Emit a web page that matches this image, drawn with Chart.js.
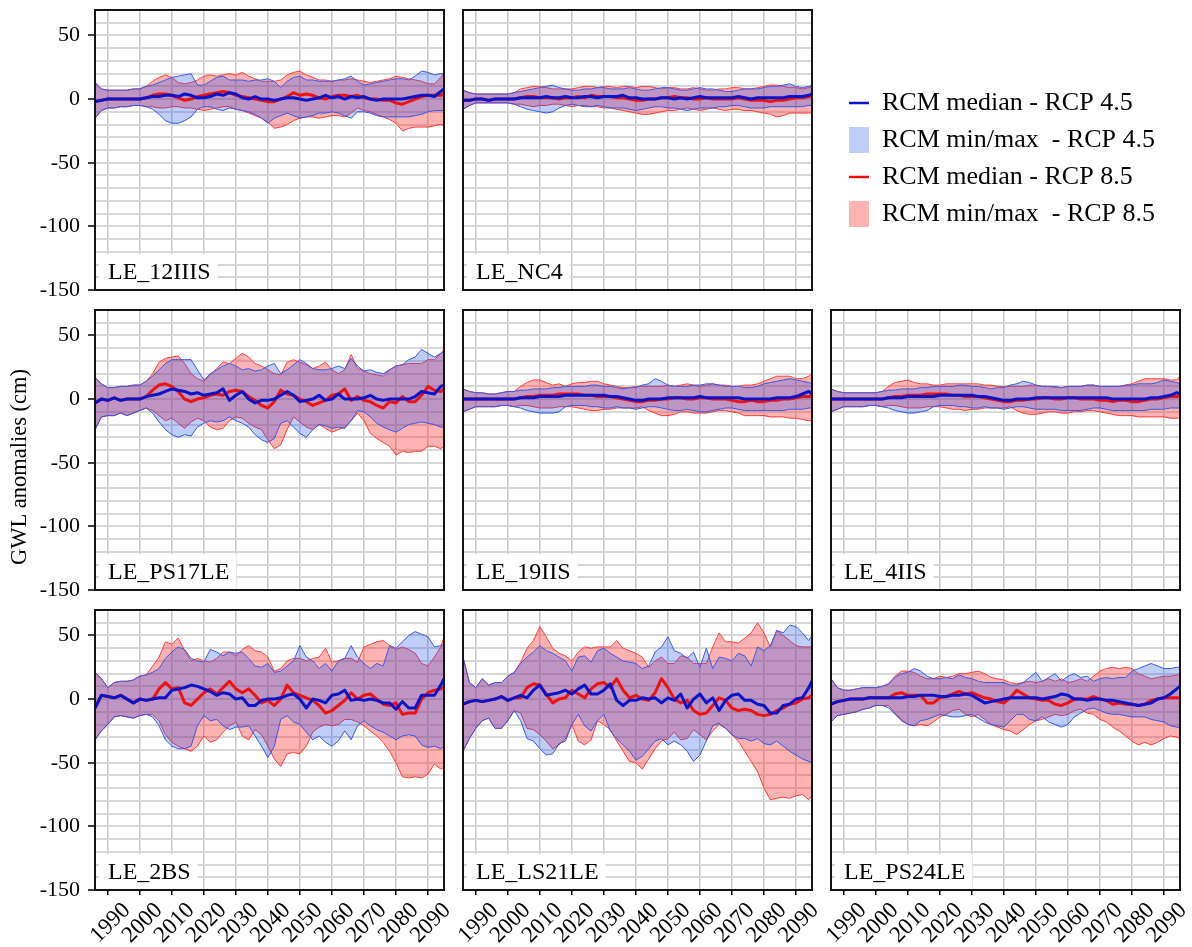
<!DOCTYPE html>
<html>
<head>
<meta charset="utf-8">
<title>GWL anomalies</title>
<script src="https://cdn.jsdelivr.net/npm/chart.js@4.4.1/dist/chart.umd.min.js"></script>
<style>
  html, body { margin: 0; padding: 0; background: #ffffff; }
  body { width: 1192px; height: 947px; position: relative; overflow: hidden; }
  canvas.panel { position: absolute; }
</style>
</head>
<body>
<script>
// ---------------------------------------------------------------------------
// Time axis (years) and axis tick values
// ---------------------------------------------------------------------------
const years = [1986, 1988, 1990, 1992, 1994, 1996, 1998, 2000, 2002, 2004,
  2006, 2008, 2010, 2012, 2014, 2016, 2018, 2020, 2022, 2024,
  2026, 2028, 2030, 2032, 2034, 2036, 2038, 2040, 2042, 2044,
  2046, 2048, 2050, 2052, 2054, 2056, 2058, 2060, 2062, 2064,
  2066, 2068, 2070, 2072, 2074, 2076, 2078, 2080, 2082, 2084,
  2086, 2088, 2090, 2092, 2094, 2095];

const xTickValues = [1990, 2000, 2010, 2020, 2030, 2040, 2050, 2060, 2070, 2080, 2090];
const yTickLabels = [50, 0, -50, -100, -150];
const yGridValues = [70, 60, 50, 40, 30, 20, 10, 0, -10, -20, -30, -40, -50, -60,
  -70, -80, -90, -100, -110, -120, -130, -140, -150];

const stationNames = ['LE_12IIIS', 'LE_NC4', 'LE_PS17LE', 'LE_19IIS', 'LE_4IIS',
  'LE_2BS', 'LE_LS21LE', 'LE_PS24LE'];

// ---------------------------------------------------------------------------
// GWL anomalies (cm): RCM min / max / median for RCP 4.5 and RCP 8.5
// ---------------------------------------------------------------------------
// LE_12IIIS
const s12IIIS_max45 = [13,8,7,7,7,7,8,8,10,11, 13,15,17,18,19,20,11,11,14,17, 18,15,15,15,14,15,15,16,14,9, 14,17,18,15,15,14,14,14,15,16, 18,14,11,12,13,14,15,16,16,15, 18,22,21,19,20,20];
const s12IIIS_min45 = [-15,-9,-7,-7,-6,-6,-5,-5,-6,-8, -12,-17,-19,-19,-17,-14,-8,-6,-6,-8, -9,-7,-8,-9,-10,-12,-15,-19,-15,-13, -11,-13,-15,-14,-13,-11,-11,-10,-11,-13, -15,-10,-10,-11,-13,-14,-14,-14,-14,-14, -13,-12,-10,-9,-9,-9];
const s12IIIS_med45 = [-2,-1,0,0,0,0,0,0,1,2, 2,3,3,2,4,3,1,1,2,4, 3,5,4,1,0,2,0,0,-1,0, 1,1,0,-1,0,1,3,1,2,0, 2,1,2,0,-1,0,0,0,0,1, 2,3,3,2,6,8];
const s12IIIS_max85 = [13,8,7,7,7,7,8,8,10,14, 17,19,17,13,12,13,15,18,19,18, 19,20,19,21,18,16,14,14,14,15, 19,21,22,19,17,15,15,14,15,15, 16,15,14,13,14,15,16,18,17,16, 15,14,12,12,17,20];
const s12IIIS_min85 = [-15,-9,-7,-7,-6,-6,-5,-5,-6,-6, -7,-7,-6,-6,-7,-7,-8,-9,-8,-7, -6,-6,-8,-9,-11,-13,-15,-18,-23,-22, -20,-17,-15,-14,-14,-15,-14,-13,-13,-14, -11,-7,-9,-10,-12,-14,-16,-19,-25,-23, -22,-22,-22,-21,-20,-21];
const s12IIIS_med85 = [-2,-1,0,0,0,0,0,0,1,3, 4,4,3,1,-1,0,2,3,4,5, 6,5,3,2,1,0,-1,-2,-2,0, 2,5,3,4,3,1,0,2,3,3, 2,3,1,0,0,-1,-1,-3,-4,-2, 0,2,3,3,3,4];

// LE_NC4
const sNC4_max45 = [7,5,4,4,4,4,4,4,5,6, 7,8,9,10,11,9,8,7,7,8, 8,9,9,8,8,8,9,8,7,7, 8,9,9,8,7,7,8,9,8,8, 7,6,6,7,8,8,8,9,10,10, 11,12,10,9,10,11];
const sNC4_min45 = [-8,-5,-3,-3,-3,-3,-3,-3,-4,-6, -8,-9,-10,-11,-10,-7,-5,-4,-5,-6, -6,-5,-6,-7,-7,-7,-8,-9,-8,-7, -6,-6,-7,-7,-8,-9,-8,-7,-7,-7, -6,-6,-5,-5,-6,-7,-7,-7,-6,-6, -6,-6,-6,-6,-5,-5];
const sNC4_med45 = [-1,-1,0,0,-1,0,0,0,0,1, 1,1,1,2,1,1,2,1,1,2, 2,1,2,2,2,3,1,1,0,0, 0,1,1,0,1,0,1,2,1,1, 1,1,1,2,1,0,1,1,1,1, 1,2,2,2,3,4];
const sNC4_max85 = [7,5,4,4,4,4,4,4,5,8, 9,10,10,9,8,8,8,8,9,10, 10,9,10,10,9,10,10,9,10,10, 9,8,9,9,8,8,9,8,7,7, 8,8,9,9,8,8,9,10,11,11, 10,9,9,8,9,9];
const sNC4_min85 = [-8,-5,-3,-3,-3,-3,-3,-3,-4,-4, -5,-6,-5,-5,-4,-4,-5,-6,-5,-5, -6,-6,-7,-7,-8,-9,-10,-11,-12,-12, -11,-10,-9,-9,-8,-7,-8,-9,-8,-7, -8,-9,-8,-8,-9,-9,-10,-11,-12,-14, -13,-11,-11,-11,-11,-11];
const sNC4_med85 = [-1,-1,0,0,-1,0,0,0,0,1, 2,2,1,1,1,0,1,1,2,1, 3,2,2,2,1,1,0,-1,-1,0, 0,1,1,2,1,1,0,0,1,0, 0,0,0,1,0,-1,-1,-1,-2,-1, -1,0,1,1,2,2];

// LE_PS17LE
const sPS17LE_max45 = [17,12,9,9,10,10,11,11,14,18, 23,28,31,31,31,31,23,15,20,23, 26,28,26,23,24,22,23,26,28,20, 23,27,31,28,24,23,23,24,26,24, 32,26,22,23,21,20,23,26,27,31, 33,39,36,33,36,37];
const sPS17LE_min45 = [-24,-14,-13,-13,-11,-13,-11,-9,-7,-11, -18,-24,-28,-30,-28,-29,-22,-19,-17,-18, -17,-14,-17,-19,-22,-28,-32,-34,-31,-19, -17,-22,-27,-30,-24,-20,-21,-23,-22,-23, -17,-9,-10,-14,-19,-22,-24,-26,-23,-20, -19,-18,-19,-20,-22,-22];
const sPS17LE_med45 = [-3,0,-1,1,-1,0,0,0,2,3, 4,6,8,7,6,4,5,3,4,5, 8,-1,3,6,0,-3,-1,-1,0,3, 6,3,-2,-1,0,3,-1,0,4,0, 0,0,1,3,0,-1,0,0,0,0, 2,6,5,4,10,11];
const sPS17LE_max85 = [17,12,9,9,10,10,11,11,14,20, 29,32,33,34,28,20,16,14,19,24, 29,28,32,36,33,28,26,23,20,19, 29,31,29,27,24,26,29,23,20,23, 35,24,22,20,19,18,23,26,27,28, 28,28,31,31,36,39];
const sPS17LE_min85 = [-24,-14,-13,-13,-11,-13,-11,-9,-7,-9, -13,-17,-15,-19,-23,-18,-15,-17,-22,-24, -23,-17,-14,-15,-19,-22,-24,-32,-39,-36, -24,-14,-18,-22,-24,-20,-23,-26,-24,-22, -17,-11,-17,-27,-31,-34,-37,-44,-41,-42, -41,-41,-37,-37,-39,-37];
const sPS17LE_med85 = [-3,0,-1,1,-1,0,0,0,2,7, 11,12,10,6,0,-2,0,1,3,4, 3,6,7,6,2,-1,-5,-7,-2,7, 4,3,0,-2,-5,-3,-1,3,4,8, -1,2,-1,-2,-5,-7,-2,-3,2,-2, -2,3,10,7,6,8];

// LE_19IIS
const s19IIS_max45 = [8,6,5,5,4,4,5,6,6,7, 7,8,8,8,9,9,10,10,10,10, 11,11,10,10,9,8,9,9,11,12, 16,14,11,10,10,10,11,11,12,12, 11,10,10,10,9,9,10,12,13,14, 15,16,15,14,13,12];
const s19IIS_min45 = [-10,-8,-6,-6,-6,-6,-5,-5,-6,-7, -9,-10,-11,-11,-11,-10,-6,-5,-5,-5, -6,-6,-7,-7,-6,-7,-7,-8,-7,-6, -6,-7,-8,-9,-9,-8,-9,-10,-10,-9, -8,-7,-7,-8,-9,-9,-9,-9,-9,-9, -9,-8,-8,-8,-7,-7];
const s19IIS_med45 = [0,0,0,0,0,0,0,0,0,1, 1,1,2,2,2,2,3,3,3,3, 3,3,3,2,2,1,0,-1,-1,0, 0,0,1,1,1,1,1,2,1,1, 1,1,1,1,0,0,0,0,0,1, 1,1,2,4,6,4];
const s19IIS_max85 = [8,6,5,5,4,4,5,6,6,10, 13,15,15,13,11,12,10,12,13,13, 14,14,12,11,10,9,9,10,10,10, 10,10,11,10,11,12,11,10,11,12, 11,11,10,10,11,11,12,14,16,18, 18,18,16,16,18,20];
const s19IIS_min85 = [-10,-8,-6,-6,-6,-6,-5,-5,-6,-5, -5,-6,-7,-7,-7,-6,-6,-6,-7,-8, -9,-9,-8,-8,-7,-7,-7,-7,-6,-9, -11,-13,-13,-12,-10,-10,-11,-11,-11,-10, -9,-9,-10,-11,-13,-13,-13,-13,-14,-14, -14,-15,-15,-16,-17,-17];
const s19IIS_med85 = [0,0,0,0,0,0,0,0,0,1, 2,2,3,3,3,4,4,4,4,3, 3,2,2,2,1,0,-1,-2,-2,-1, -1,0,0,1,1,0,0,1,1,0, 0,0,-1,-2,-2,-1,-2,-2,-1,-1, 0,0,1,2,2,2];

// LE_4IIS
const s4IIS_max45 = [8,6,5,5,5,5,5,5,6,7, 7,8,8,8,9,9,10,10,10,10, 11,11,10,10,9,8,9,9,11,12, 14,13,11,10,10,10,9,10,10,10, 11,11,10,10,10,10,11,11,12,12, 12,13,15,14,13,12];
const s4IIS_min45 = [-10,-8,-6,-6,-6,-6,-5,-5,-6,-7, -9,-10,-11,-11,-10,-9,-6,-5,-5,-5, -6,-6,-7,-7,-6,-7,-7,-8,-7,-6, -6,-7,-8,-8,-8,-8,-9,-9,-9,-9, -8,-7,-7,-8,-9,-9,-9,-9,-9,-9, -8,-8,-8,-7,-7,-7];
const s4IIS_med45 = [0,0,0,0,0,0,0,0,0,1, 1,1,2,2,2,2,2,3,3,3, 3,3,3,2,2,1,0,-1,-1,0, 0,0,1,1,1,1,1,1,1,1, 1,1,1,1,0,0,0,0,0,0, 1,1,2,3,5,4];
const s4IIS_max85 = [8,6,5,5,5,5,5,5,6,10, 13,14,15,13,12,12,11,11,12,12, 12,12,12,12,11,11,10,10,10,10, 10,11,11,10,10,9,9,10,10,10, 11,11,10,10,10,10,11,12,14,16, 16,16,16,15,15,18];
const s4IIS_min85 = [-10,-8,-6,-6,-6,-6,-5,-5,-6,-5, -5,-6,-7,-7,-7,-6,-6,-6,-7,-8, -8,-9,-8,-8,-7,-7,-7,-7,-6,-9, -11,-12,-12,-11,-10,-10,-11,-11,-10,-10, -9,-9,-10,-11,-12,-13,-13,-13,-14,-14, -14,-14,-14,-15,-15,-15];
const s4IIS_med85 = [0,0,0,0,0,0,0,0,0,1, 2,2,3,3,3,4,4,4,4,3, 3,2,2,2,1,0,-1,-2,-2,-1, -1,0,0,1,1,0,0,1,1,0, 0,0,-1,-1,-2,-1,-1,-2,-2,-1, 0,0,1,2,2,2];

// LE_2BS
const s2BS_max45 = [21,16,9,13,14,14,15,18,19,21, 24,32,37,41,39,32,30,29,39,37, 34,37,36,37,32,26,25,28,21,22, 26,30,42,33,30,24,28,22,30,32, 42,33,28,24,28,26,42,40,45,50, 53,51,49,41,42,43];
const s2BS_min45 = [-32,-25,-20,-14,-13,-14,-15,-13,-12,-14, -21,-32,-37,-39,-39,-37,-21,-13,-17,-16, -21,-24,-22,-22,-21,-29,-37,-46,-37,-16, -13,-18,-20,-26,-32,-29,-34,-37,-33,-25, -32,-21,-17,-21,-24,-26,-29,-32,-29,-28, -29,-36,-38,-37,-39,-37];
const s2BS_med45 = [-7,3,2,1,3,0,-3,0,-1,0, 1,1,7,8,9,11,10,8,6,3, 5,4,0,1,-5,-5,-1,0,0,1, 3,4,0,-7,0,-1,-3,3,4,7, -1,0,-1,0,-1,-3,-3,-8,-2,-7, -7,3,3,3,11,16];
const s2BS_max85 = [21,16,9,13,14,14,15,18,19,26, 33,45,43,48,38,30,32,30,29,32, 37,37,34,39,42,38,37,33,22,24, 30,32,32,30,32,33,40,29,30,32, 32,29,41,43,45,46,42,39,41,39, 36,28,26,33,41,49];
const s2BS_min85 = [-32,-25,-20,-14,-13,-14,-15,-13,-12,-12, -17,-28,-34,-37,-39,-41,-37,-29,-34,-32, -26,-21,-18,-29,-32,-24,-28,-37,-47,-53, -43,-42,-43,-37,-26,-22,-20,-21,-20,-16, -16,-18,-21,-25,-29,-34,-41,-50,-61,-62, -61,-62,-59,-51,-55,-54];
const s2BS_med85 = [-7,3,2,1,3,0,-3,0,-1,0, 8,13,8,9,-3,-5,0,5,8,4, 9,14,8,5,8,3,-3,-1,-5,0, 11,5,3,1,-1,-5,-11,-9,-5,-1, 5,0,3,4,0,-4,-5,-3,-12,-11, -11,0,5,7,8,9];

// LE_LS21LE
const sLS21LE_max45 = [33,13,9,16,11,13,13,18,21,28, 33,37,42,38,36,33,30,22,33,34, 29,38,40,36,33,30,29,28,24,26, 37,41,49,38,36,32,37,25,40,24, 33,32,30,36,34,26,41,38,42,54, 52,58,57,52,46,50];
const sLS21LE_min45 = [-41,-31,-23,-17,-15,-23,-23,-17,-9,-17, -31,-33,-39,-44,-43,-35,-33,-20,-12,-21, -25,-17,-12,-25,-31,-36,-41,-48,-45,-39, -33,-31,-36,-33,-36,-41,-49,-44,-33,-21, -19,-23,-28,-31,-31,-33,-31,-35,-36,-33, -37,-41,-44,-47,-49,-50];
const sLS21LE_med45 = [-4,-2,-1,-2,-1,0,2,-1,1,3, 1,7,11,3,4,5,7,4,8,11, 4,4,7,12,-1,-5,-1,-1,1,0, 1,-3,1,-1,4,-7,0,4,-3,1, -9,-1,3,4,-1,-1,-4,-5,-11,-11, -5,-4,0,1,9,14];
const sLS21LE_max85 = [33,13,9,16,11,13,13,18,21,29, 40,46,57,49,40,36,34,30,37,41, 40,41,41,41,46,40,38,36,33,25, 30,33,28,28,34,33,28,28,28,41, 52,45,45,44,48,52,60,52,41,54, 50,46,42,41,41,41];
const sLS21LE_min85 = [-41,-31,-23,-17,-15,-23,-23,-17,-9,-11, -23,-24,-28,-33,-39,-36,-31,-20,-33,-36, -32,-17,-20,-24,-33,-41,-49,-50,-55,-47, -39,-33,-31,-26,-32,-31,-24,-28,-32,-25, -20,-23,-28,-33,-41,-49,-57,-70,-79,-78, -77,-78,-76,-75,-79,-76];
const sLS21LE_med85 = [-4,-2,-1,-2,-1,0,2,-1,1,1, 9,12,11,4,-3,0,1,7,4,1, 8,12,13,9,16,7,1,3,0,-1, 5,16,9,0,-3,-1,-9,-12,-11,-5, 1,-1,-7,-9,-8,-9,-12,-13,-12,-9, -7,-4,-3,0,1,3];

// LE_PS24LE
const sPS24LE_max45 = [16,9,7,7,8,9,9,9,10,12, 17,20,21,24,22,18,16,16,17,16, 19,17,16,14,13,13,13,13,11,11, 13,17,21,14,17,20,14,18,20,17, 18,14,16,17,16,17,17,22,24,26, 28,26,24,24,25,25];
const sPS24LE_min45 = [-18,-13,-12,-11,-10,-8,-7,-5,-5,-7, -12,-17,-20,-21,-17,-16,-14,-12,-13,-14, -14,-13,-12,-15,-18,-20,-21,-22,-17,-12, -12,-16,-17,-14,-18,-20,-22,-20,-14,-11, -8,-7,-9,-11,-12,-12,-13,-14,-14,-14, -16,-17,-18,-21,-22,-23];
const sPS24LE_med45 = [-4,-2,-1,0,0,0,1,1,1,1, 1,1,2,2,3,3,3,2,2,3, 3,4,3,0,-3,-2,-1,0,1,1, 1,1,1,0,1,2,4,3,0,0, -1,0,0,-1,-1,-2,-3,-4,-5,-4, -3,0,1,4,8,10];
const sPS24LE_max85 = [16,9,7,7,8,9,9,9,10,12, 18,22,22,21,18,16,16,18,17,18, 20,20,21,22,20,17,16,15,13,12, 13,14,13,14,16,14,16,13,14,16, 14,18,22,24,25,24,25,24,20,18, 16,17,18,18,19,19];
const sPS24LE_min85 = [-18,-13,-12,-11,-10,-8,-7,-5,-5,-5, -11,-16,-20,-21,-20,-21,-18,-14,-12,-9, -8,-12,-14,-12,-16,-20,-22,-24,-25,-28, -24,-20,-17,-16,-14,-12,-13,-12,-9,-8, -11,-12,-16,-18,-22,-25,-29,-33,-36,-34, -36,-34,-31,-29,-30,-31];
const sPS24LE_med85 = [-4,-2,-1,0,0,0,1,1,1,1, 4,5,3,3,3,-3,-3,1,2,4, 6,4,5,3,1,0,-2,-3,1,7, 4,1,0,-1,-1,-4,-5,-3,0,0, 0,2,0,-1,-4,-3,-4,-4,-5,-4, -1,0,1,1,1,1];

// Station series, in panel order (row by row, skipping the legend slot)
const stationSeries = [
  [s12IIIS_min45, s12IIIS_max45, s12IIIS_med45, s12IIIS_min85, s12IIIS_max85, s12IIIS_med85],
  [sNC4_min45, sNC4_max45, sNC4_med45, sNC4_min85, sNC4_max85, sNC4_med85],
  [sPS17LE_min45, sPS17LE_max45, sPS17LE_med45, sPS17LE_min85, sPS17LE_max85, sPS17LE_med85],
  [s19IIS_min45, s19IIS_max45, s19IIS_med45, s19IIS_min85, s19IIS_max85, s19IIS_med85],
  [s4IIS_min45, s4IIS_max45, s4IIS_med45, s4IIS_min85, s4IIS_max85, s4IIS_med85],
  [s2BS_min45, s2BS_max45, s2BS_med45, s2BS_min85, s2BS_max85, s2BS_med85],
  [sLS21LE_min45, sLS21LE_max45, sLS21LE_med45, sLS21LE_min85, sLS21LE_max85, sLS21LE_med85],
  [sPS24LE_min45, sPS24LE_max45, sPS24LE_med45, sPS24LE_min85, sPS24LE_max85, sPS24LE_med85]
];
const panelSlots = [[0, 0], [0, 1], [1, 0], [1, 1], [1, 2], [2, 0], [2, 1], [2, 2]];

const legendLabels = ['RCM median - RCP 4.5', 'RCM min/max  - RCP 4.5',
  'RCM median - RCP 8.5', 'RCM min/max  - RCP 8.5'];

// ---------------------------------------------------------------------------
// Styling and layout
// ---------------------------------------------------------------------------
const SERIF = "'Liberation Serif', 'Times New Roman', Times, serif";
const BLUE_LINE = '#0a14c8';
const RED_LINE = '#ee1111';
const BLUE_EDGE = '#3c5ae6';
const RED_EDGE = '#ff4040';
const BLUE_FILL = 'rgba(20, 70, 240, 0.27)';
const RED_FILL = 'rgba(255, 20, 20, 0.33)';

const COL_LEFT = [95, 463, 831];
const ROW_TOP = [10, 310, 610];
const PLOT_W = 349, PLOT_H = 280;
const AXIS_W = 95, PAD_TOP = 24, PAD_RIGHT = 20;

const framePlugin = {
  id: 'panelFrame',
  afterDatasetsDraw(chart, args, opts) {
    const { ctx, chartArea: a } = chart;
    ctx.save();
    ctx.font = '24px ' + SERIF;
    const w = ctx.measureText(opts.name).width;
    ctx.fillStyle = '#ffffff';
    ctx.fillRect(a.left + 4, a.bottom - 36, w + 16, 35);
    ctx.fillStyle = '#000000';
    ctx.textBaseline = 'alphabetic';
    ctx.fillText(opts.name, a.left + 13, a.bottom - 11);
    ctx.restore();
  },
  afterDraw(chart) {
    const { ctx, chartArea: a } = chart;
    ctx.save();
    ctx.strokeStyle = '#151515';
    ctx.lineWidth = 2;
    ctx.strokeRect(a.left, a.top, a.right - a.left, a.bottom - a.top);
    ctx.restore();
  }
};

const yTitlePlugin = {
  id: 'yTitle',
  afterDraw(chart, args, opts) {
    if (!opts.text) return;
    const ctx = chart.ctx;
    ctx.save();
    ctx.translate(opts.x, opts.y);
    ctx.rotate(-Math.PI / 2);
    ctx.font = '22.5px ' + SERIF;
    ctx.fillStyle = '#000';
    ctx.textAlign = 'center';
    ctx.textBaseline = 'middle';
    ctx.fillText(opts.text, 0, 0);
    ctx.restore();
  }
};

function points(arr) {
  return years.map((yr, i) => ({ x: yr, y: arr[i] }));
}

function makePanel(idx) {
  const [row, col] = panelSlots[idx];
  const [min45, max45, med45, min85, max85, med85] = stationSeries[idx];
  const isLeft = col === 0;
  const isBottom = row === 2;
  const bottomH = isBottom ? 62 : 24;

  const canvas = document.createElement('canvas');
  canvas.className = 'panel';
  const cw = AXIS_W + PLOT_W + PAD_RIGHT;
  const ch = PAD_TOP + PLOT_H + bottomH;
  canvas.width = cw; canvas.height = ch;
  canvas.style.width = cw + 'px'; canvas.style.height = ch + 'px';
  canvas.style.left = (COL_LEFT[col] - AXIS_W) + 'px';
  canvas.style.top = (ROW_TOP[row] - PAD_TOP) + 'px';
  document.body.appendChild(canvas);

  const titleOpts = (row === 1 && col === 0)
    ? { text: 'GWL anomalies (cm)', x: 20, y: 467 - (ROW_TOP[row] - PAD_TOP) }
    : { text: '' };

  return new Chart(canvas, {
    type: 'line',
    data: {
      datasets: [
        { data: points(min85), borderColor: RED_EDGE, borderWidth: 1, fill: false, order: 6 },
        { data: points(max85), borderColor: RED_EDGE, borderWidth: 1, backgroundColor: RED_FILL, fill: '-1', order: 5 },
        { data: points(min45), borderColor: BLUE_EDGE, borderWidth: 1, fill: false, order: 4 },
        { data: points(max45), borderColor: BLUE_EDGE, borderWidth: 1, backgroundColor: BLUE_FILL, fill: '-1', order: 3 },
        { data: points(med85), borderColor: RED_LINE, borderWidth: 3, fill: false, order: 2 },
        { data: points(med45), borderColor: BLUE_LINE, borderWidth: 3, fill: false, order: 1 }
      ]
    },
    options: {
      responsive: false,
      animation: false,
      devicePixelRatio: 1,
      events: [],
      layout: { padding: { top: PAD_TOP, right: PAD_RIGHT, left: 0, bottom: 0 } },
      elements: { point: { radius: 0 }, line: { tension: 0, borderJoinStyle: 'round' } },
      plugins: {
        legend: { display: false },
        tooltip: { enabled: false },
        filler: { propagate: false },
        panelFrame: { name: stationNames[idx] },
        yTitle: titleOpts
      },
      scales: {
        x: {
          type: 'linear', min: 1986, max: 2095,
          afterBuildTicks: s => { s.ticks = xTickValues.map(v => ({ value: v })); },
          afterFit: s => { s.height = bottomH; },
          border: { display: false },
          grid: { color: '#c8c8c8', lineWidth: 1.5, drawTicks: isBottom, tickLength: 5, tickColor: '#000', tickWidth: 1.5 },
          ticks: {
            display: isBottom, autoSkip: false, minRotation: 45, maxRotation: 45,
            padding: 2, labelOffset: 19, color: '#000',
            font: { family: SERIF, size: 23 },
            callback: v => String(v)
          }
        },
        y: {
          type: 'linear', min: -150, max: 70,
          afterBuildTicks: s => { s.ticks = yGridValues.map(v => ({ value: v })); },
          afterFit: s => { s.width = AXIS_W; },
          border: { display: false },
          grid: {
            color: '#d8d8d8', lineWidth: 2, drawTicks: isLeft, tickLength: 7, tickWidth: 1.5,
            tickColor: c => (c.tick && yTickLabels.includes(c.tick.value)) ? '#000' : 'rgba(0,0,0,0)'
          },
          ticks: {
            display: isLeft, autoSkip: false, padding: 8, color: '#000',
            font: { family: SERIF, size: 22 },
            callback: v => yTickLabels.includes(v) ? String(v) : ''
          }
        }
      }
    },
    plugins: [framePlugin, yTitlePlugin]
  });
}

function makeLegend() {
  const canvas = document.createElement('canvas');
  canvas.className = 'panel';
  canvas.width = 350; canvas.height = 340;
  canvas.style.width = '350px'; canvas.style.height = '340px';
  canvas.style.left = '838px';
  canvas.style.top = '79px';
  document.body.appendChild(canvas);
  const styles = [
    { pointStyle: 'line', strokeStyle: BLUE_LINE, fillStyle: BLUE_LINE, lineWidth: 2.5 },
    { pointStyle: 'rect', strokeStyle: BLUE_FILL, fillStyle: BLUE_FILL, lineWidth: 0 },
    { pointStyle: 'line', strokeStyle: RED_LINE, fillStyle: RED_LINE, lineWidth: 2.5 },
    { pointStyle: 'rect', strokeStyle: RED_FILL, fillStyle: RED_FILL, lineWidth: 0 }
  ];
  return new Chart(canvas, {
    type: 'line',
    data: { datasets: [] },
    options: {
      responsive: false, animation: false, devicePixelRatio: 1, events: [],
      layout: { padding: 0 },
      scales: { x: { display: false }, y: { display: false } },
      plugins: {
        tooltip: { enabled: false },
        legend: {
          display: true, position: 'top', align: 'start',
          labels: {
            usePointStyle: true, pointStyleWidth: 20, boxHeight: 28, padding: 11,
            color: '#000', font: { family: SERIF, size: 26 },
            generateLabels: () => legendLabels.map((text, i) => Object.assign({
              text, hidden: false, fontColor: '#000', datasetIndex: i
            }, styles[i]))
          }
        }
      }
    }
  });
}

for (let i = 0; i < stationNames.length; i++) makePanel(i);
makeLegend();
</script>
</body>
</html>
